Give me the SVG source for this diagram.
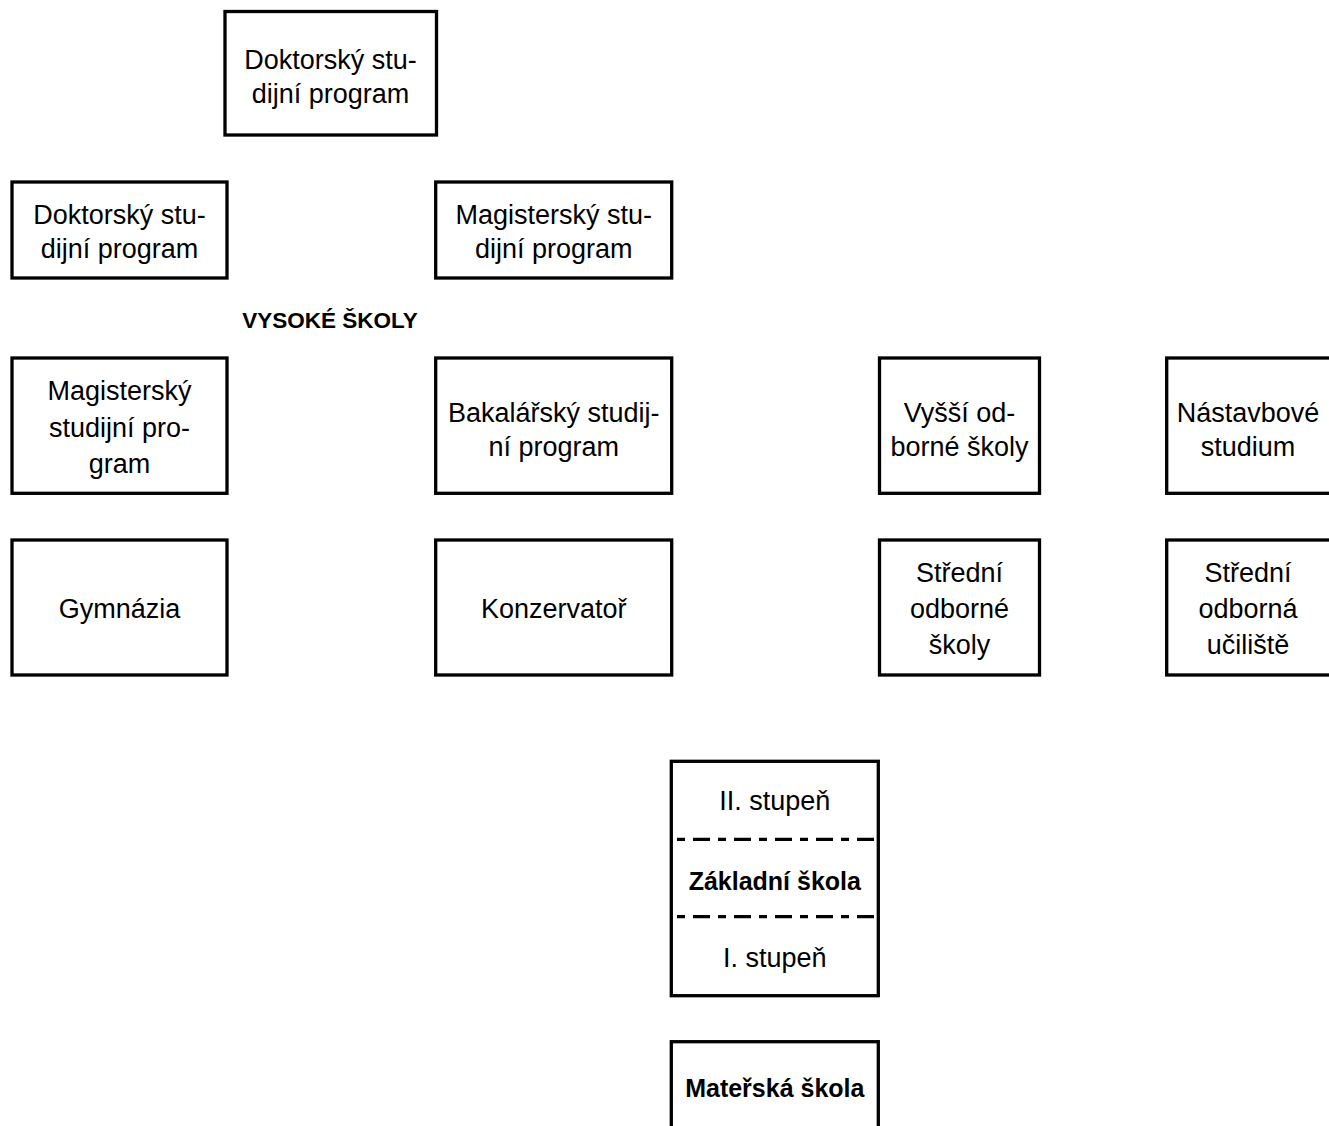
<svg xmlns="http://www.w3.org/2000/svg" width="1329" height="1126" viewBox="0 0 1329 1126">
<style>
.box{fill:#fff;stroke:#000;stroke-width:3.3}
.t{font-family:"Liberation Sans",Arial,sans-serif;font-size:27px;fill:#000;text-anchor:middle}
.b{font-family:"Liberation Sans",Arial,sans-serif;font-size:25px;font-weight:bold;fill:#000;text-anchor:middle}
.dash{stroke:#000;stroke-width:3.3;stroke-dasharray:17 8 8 8;stroke-dashoffset:21;fill:none}
</style>
<rect width="1329" height="1126" fill="#fff"/>
<g id="connectors"/>
<g id="doktorsky-top">
<rect class="box" x="225" y="11.5" width="211.5" height="123.5"/>
<text class="t" x="330.5" y="69">Doktorský stu-</text>
<text class="t" x="330.5" y="103">dijní program</text>
</g>
<g id="doktorsky">
<rect class="box" x="12" y="182" width="215" height="96"/>
<text class="t" x="119.5" y="224">Doktorský stu-</text>
<text class="t" x="119.5" y="258">dijní program</text>
</g>
<g id="magistersky-top">
<rect class="box" x="435.7" y="182" width="236" height="96"/>
<text class="t" x="553.7" y="224">Magisterský stu-</text>
<text class="t" x="553.7" y="258">dijní program</text>
</g>
<g id="vysoke-skoly">
<text class="b" x="330" y="328" style="font-size:22.5px">VYSOKÉ ŠKOLY</text>
</g>
<g id="magistersky">
<rect class="box" x="12" y="358" width="215" height="135.3"/>
<text class="t" x="119.5" y="400">Magisterský</text>
<text class="t" x="119.5" y="436.5">studijní pro-</text>
<text class="t" x="119.5" y="473">gram</text>
</g>
<g id="bakalarsky">
<rect class="box" x="435.7" y="358" width="236" height="135.3"/>
<text class="t" x="553.7" y="421.5">Bakalářský studij-</text>
<text class="t" x="553.7" y="455.5">ní program</text>
</g>
<g id="vyssi-odborne">
<rect class="box" x="879.5" y="358" width="160" height="135.3"/>
<text class="t" x="959.5" y="421.5">Vyšší od-</text>
<text class="t" x="959.5" y="455.5">borné školy</text>
</g>
<g id="nastavbove">
<rect class="box" x="1166.7" y="358" width="200" height="135.3"/>
<text class="t" x="1248" y="421.5">Nástavbové</text>
<text class="t" x="1248" y="455.5">studium</text>
</g>
<g id="gymnazia">
<rect class="box" x="12" y="540" width="215" height="135"/>
<text class="t" x="119.5" y="617.5">Gymnázia</text>
</g>
<g id="konzervator">
<rect class="box" x="435.7" y="540" width="236" height="135"/>
<text class="t" x="553.7" y="617.5">Konzervatoř</text>
</g>
<g id="stredni-odborne-skoly">
<rect class="box" x="879.5" y="540" width="160" height="135"/>
<text class="t" x="959.5" y="581.5">Střední</text>
<text class="t" x="959.5" y="617.5">odborné</text>
<text class="t" x="959.5" y="653.5">školy</text>
</g>
<g id="stredni-odborna-uciliste">
<rect class="box" x="1166.7" y="540" width="200" height="135"/>
<text class="t" x="1248" y="581.5">Střední</text>
<text class="t" x="1248" y="617.5">odborná</text>
<text class="t" x="1248" y="653.5">učiliště</text>
</g>
<g id="zakladni-skola">
<rect class="box" x="671.3" y="761.3" width="207" height="234.4"/>
<line class="dash" x1="673" y1="839.3" x2="877" y2="839.3"/>
<line class="dash" x1="673" y1="916.7" x2="877" y2="916.7"/>
<text class="t" x="774.8" y="810">II. stupeň</text>
<text class="b" x="774.8" y="889.5">Základní škola</text>
<text class="t" x="774.8" y="967">I. stupeň</text>
</g>
<g id="materska-skola">
<rect class="box" x="671.3" y="1041.7" width="207" height="120"/>
<text class="b" x="774.8" y="1096.5">Mateřská škola</text>
</g>
</svg>
